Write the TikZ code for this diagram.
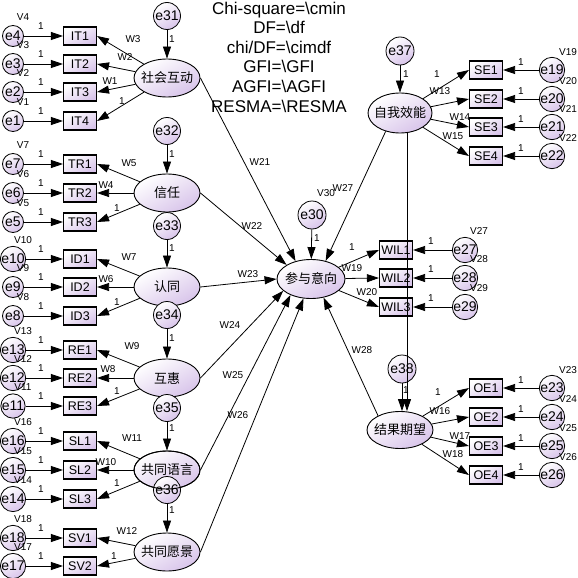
\documentclass[tikz,border=0pt]{standalone}
\usepackage{fontspec}
\setmainfont{Liberation Sans}
\newfontfamily\cjk{Noto Sans CJK SC}
\usetikzlibrary{shapes.geometric,arrows.meta}
\definecolor{lav}{RGB}{216,196,234}
\newcommand{\ztext}[1]{\makebox[0pt]{#1}}
\begin{document}
\begin{tikzpicture}[x=1pt,y=-1pt,
  shd/.style={top color=white, bottom color=lav, shading angle=30},
  err/.style={circle, draw, line width=.8pt, minimum size=21pt, inner sep=0pt, shd, font=\fontsize{14}{14}\selectfont},
  errb/.style={err, minimum size=27pt},
  obs/.style={rectangle, draw, line width=1.1pt, minimum width=33pt, minimum height=18pt, inner sep=0pt, shd, font=\fontsize{12.5}{12.5}\selectfont},
  lat/.style={ellipse, draw, line width=.9pt, minimum width=66pt, minimum height=38pt, inner sep=0pt, shd, font=\cjk\fontsize{13}{13}\selectfont},
  lbl/.style={inner sep=0pt, font=\fontsize{10}{10}\selectfont},
  arr/.style={-{Triangle[length=12pt,width=8pt]}, line width=.8pt}]
\useasboundingbox (0,0) rectangle (578,578);
\fill[white] (0,0) rectangle (578,578);

% fit text
\node[font=\fontsize{17}{19.6}\selectfont, align=center, inner sep=0pt] (fit) at (279,57)
 {Chi-square=\textbackslash cmin\\DF=\textbackslash df\\chi/DF=\textbackslash cimdf\\GFI=\textbackslash GFI\\AGFI=\textbackslash AGFI\\RESMA=\textbackslash RESMA};

% latent variables
\node[lat] (SI) at (167,78) {\ztext{社会互动}};
\node[lat] (TR) at (167,193) {\ztext{信任}};
\node[lat] (ID) at (167,287) {\ztext{认同}};
\node[lat] (RE) at (167,378) {\ztext{互惠}};
\node[lat] (SL) at (167,470) {\ztext{共同语言}};
\node[lat] (SV) at (167,552) {\ztext{共同愿景}};
\node[lat, minimum height=40pt, minimum width=64pt] (SE) at (400,113) {\ztext{自我效能}};
\node[lat, minimum height=37pt] (OE) at (400,430) {\ztext{结果期望}};
\node[lat, minimum width=68pt, minimum height=39pt] (PV) at (311,279) {\ztext{参与意向}};

% latent residuals
\node[errb] (e31) at (167,16) {e31};
\node[errb] (e32) at (167,131) {e32};
\node[errb] (e33) at (167,226) {e33};
\node[errb] (e34) at (167,315) {e34};
\node[errb] (e35) at (167,408) {e35};
\node[errb] (e36) at (167,490) {e36};
\draw[line width=.9pt] (SL.center) ellipse [x radius=33pt, y radius=19pt];
\node[errb, minimum size=28pt] (e37) at (400,51) {e37};
\node[errb, minimum size=28pt] (e30) at (312,215) {e30};
\node[errb, minimum size=28pt] (e38) at (402,369) {e38};

% left indicators
\foreach \b/\y/\e/\v in {IT1/36/e4/V4, IT2/64/e3/V3, IT3/92/e2/V2, IT4/121/e1/V1,
  TR1/164/e7/V7, TR2/193/e6/V6, TR3/222/e5/V5,
  ID1/259/e10/V10, ID2/287/e9/V9, ID3/316/e8/V8,
  RE1/350/e13/V13, RE2/378/e12/V12, RE3/406/e11/V11,
  SL1/441/e16/V16, SL2/470/e15/V15, SL3/499/e14/V14,
  SV1/538/e18/V18, SV2/566/e17/V17}{
  \node[obs] (\b) at (80,\y) {\b};
  \node[err] (\e) at (13,\y) {\e};
  \node[lbl] (v\e) at (23,\y-19) {\v};
  \draw[arr] (\e) -- (\b);
  \node[lbl] (one\e) at (41,\y-10) {1};
}

% right indicators
\foreach \b/\y/\e/\v in {SE1/70/e19/V19, SE2/99/e20/V20, SE3/127/e21/V21, SE4/156/e22/V22,
  OE1/388/e23/V23, OE2/417/e24/V24, OE3/446/e25/V25, OE4/475/e26/V26}{
  \node[obs] (\b) at (486,\y) {\b};
  \node[err] (\e) at (552,\y) {\e};
  \node[lbl] (v\e) at (568,\y-18) {\v};
  \draw[arr] (\e) -- (\b);
  \node[lbl] (one\e) at (521,\y-8) {1};
}
\foreach \b/\y/\e/\v in {WIL1/250/e27/V27, WIL2/278/e28/V28, WIL3/307/e29/V29}{
  \node[obs] (\b) at (396,\y) {\b};
  \node[err] (\e) at (465,\y) {\e};
  \node[lbl] (v\e) at (479,\y-19) {\v};
  \draw[arr] (\e) -- (\b);
  \node[lbl] (one\e) at (431,\y-9) {1};
}

% measurement loadings (left)
\foreach \l/\b in {SI/IT1, SI/IT2, SI/IT3, SI/IT4, TR/TR1, TR/TR2, TR/TR3,
  ID/ID1, ID/ID2, ID/ID3, RE/RE1, RE/RE2, RE/RE3, SL/SL1, SL/SL2, SL/SL3, SV/SV1, SV/SV2}
  \draw[arr] (\l) -- (\b.east);
% measurement loadings (right)
\foreach \l/\b in {SE/SE1, SE/SE2, SE/SE3, SE/SE4, OE/OE1, OE/OE2, OE/OE3, OE/OE4, PV/WIL1, PV/WIL2, PV/WIL3}
  \draw[arr] (\l) -- (\b.west);

% residual arrows to latents
\foreach \e/\l in {e31/SI, e32/TR, e33/ID, e34/RE, e35/SL, e36/SV, e37/SE, e30/PV}
  \draw[arr] (\e) -- (\l);
\draw[arr] (e38) -- (OE.north -| e38);

% structural paths
\draw[arr] (SI.east) -- (PV.131);
\draw[arr] (TR.east) -- (PV.150);
\draw[arr] (ID.east) -- (PV.west);
\draw[arr] (RE.east) -- (PV.203);
\draw[arr] (SL.east) -- (PV.218);
\draw[arr] (SV.east) -- (PV.249);
\draw[arr] (OE.147) -- (PV.304);
\draw[arr] (SE.232) -- (PV.51);
\draw[arr] ([xshift=7pt]SE.south) -- ([xshift=7pt]OE.north);

% labels
\foreach \t/\x/\y [count=\i] in {W3/133/39, W2/125/57, W1/110/81, 1/122/101,
  W5/129/163, W4/106/185, 1/117/208,
  W7/129/257, W6/106/279, 1/117/302,
  W9/132/346, W8/108/369, 1/117/391,
  W11/132/438, W10/106/462, 1/117/483,
  W12/127/531, 1/114/556,
  1/172/39, 1/172/154, 1/172/248, 1/172/338, 1/172/428, 1/172/510,
  1/406/74, 1/317/238, 1/406/390,
  1/437/74, W13/440/91, W14/460/117, W15/453/136,
  1/352/247, W19/352/268, W20/367/292,
  1/438/392, W16/440/411, W17/460/436, W18/453/454,
  W21/260/162, W22/252/226, W23/248/274, W24/230/325, W25/233/375, W26/238/415,
  V30/326/193, W27/343/188, W28/362/350}
  \node[lbl] (lab\i) at (\x,\y) {\t};
\end{tikzpicture}
\end{document}
